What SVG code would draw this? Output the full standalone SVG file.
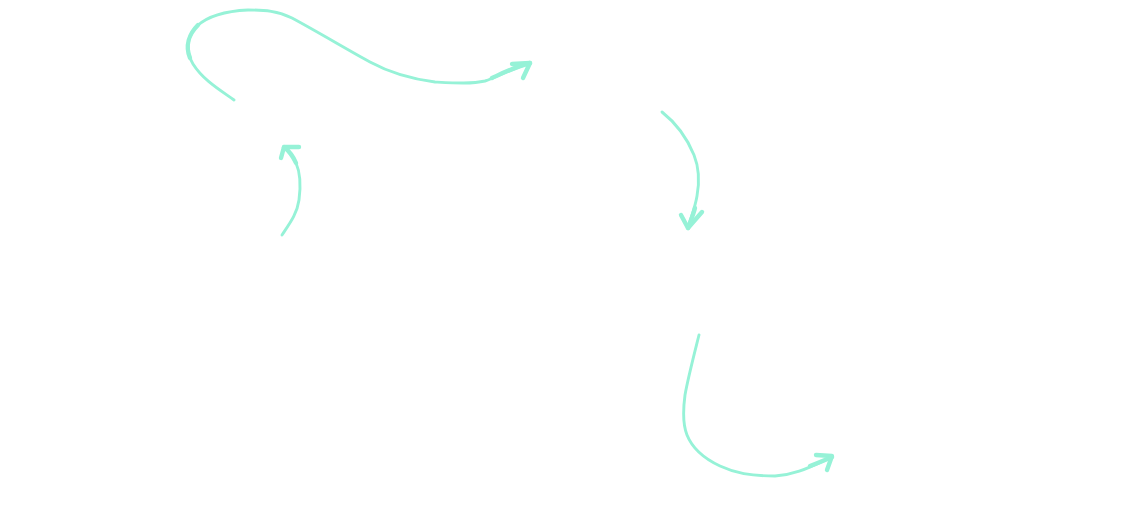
<svg xmlns="http://www.w3.org/2000/svg" width="1147" height="512" viewBox="0 0 1147 512">
<style>
.c{fill:none;stroke:#96f2d7;stroke-linecap:round;stroke-linejoin:round}
.l{stroke-width:2.9}
.h{stroke-width:4.4}
</style>
<rect width="1147" height="512" fill="#ffffff"/>
<g id="connectors">
<g id="arrow1">
<path class="c l" d="M234 100 C220 90 203 80 193 64 C185 51 187 36 197 26 C209 15 226 11 248 10 C265 10 278 11 292 18 C318 32 348 50 370 62 C392 74 412 79 435 82 C455 83 472 84 485 81 C498 77 505 71 530 63"/>
<path class="c h" d="M512 64 L530 63 L523 78"/>
<path class="c h" d="M492 78 C505 72 515 67 530 63"/>
<path class="c h" d="M190 58 C185 46 189 34 198 25"/>
</g>
<g id="arrow2">
<path class="c l" d="M282 235 C290 223 297 214 299 200 C301 185 300 172 296 163 C293 156 289 151 284 147"/>
<path class="c h" d="M299 147 L284 147 L281 158"/>
<path class="c h" d="M296 163 C293 156 289 151 284 147"/>
</g>
<g id="arrow3">
<path class="c l" d="M662 112 C676 123 687 138 694 155 C700 170 699 185 697 196 C695 208 691 217 688 228"/>
<path class="c h" d="M681 215 L688 228 L702 212"/>
<path class="c h" d="M695 208 C693 216 690 222 688 228"/>
</g>
<g id="arrow4">
<path class="c l" d="M699 335 C694 355 688 378 685 395 C683 410 683 425 687 435 C693 450 705 459 720 466 C735 473 750 476 775 476 C795 475 808 468 832 457"/>
<path class="c h" d="M816 455 L832 456 L827 470"/>
<path class="c h" d="M810 466 C818 463 825 460 832 457"/>
</g>
</g>
</svg>
